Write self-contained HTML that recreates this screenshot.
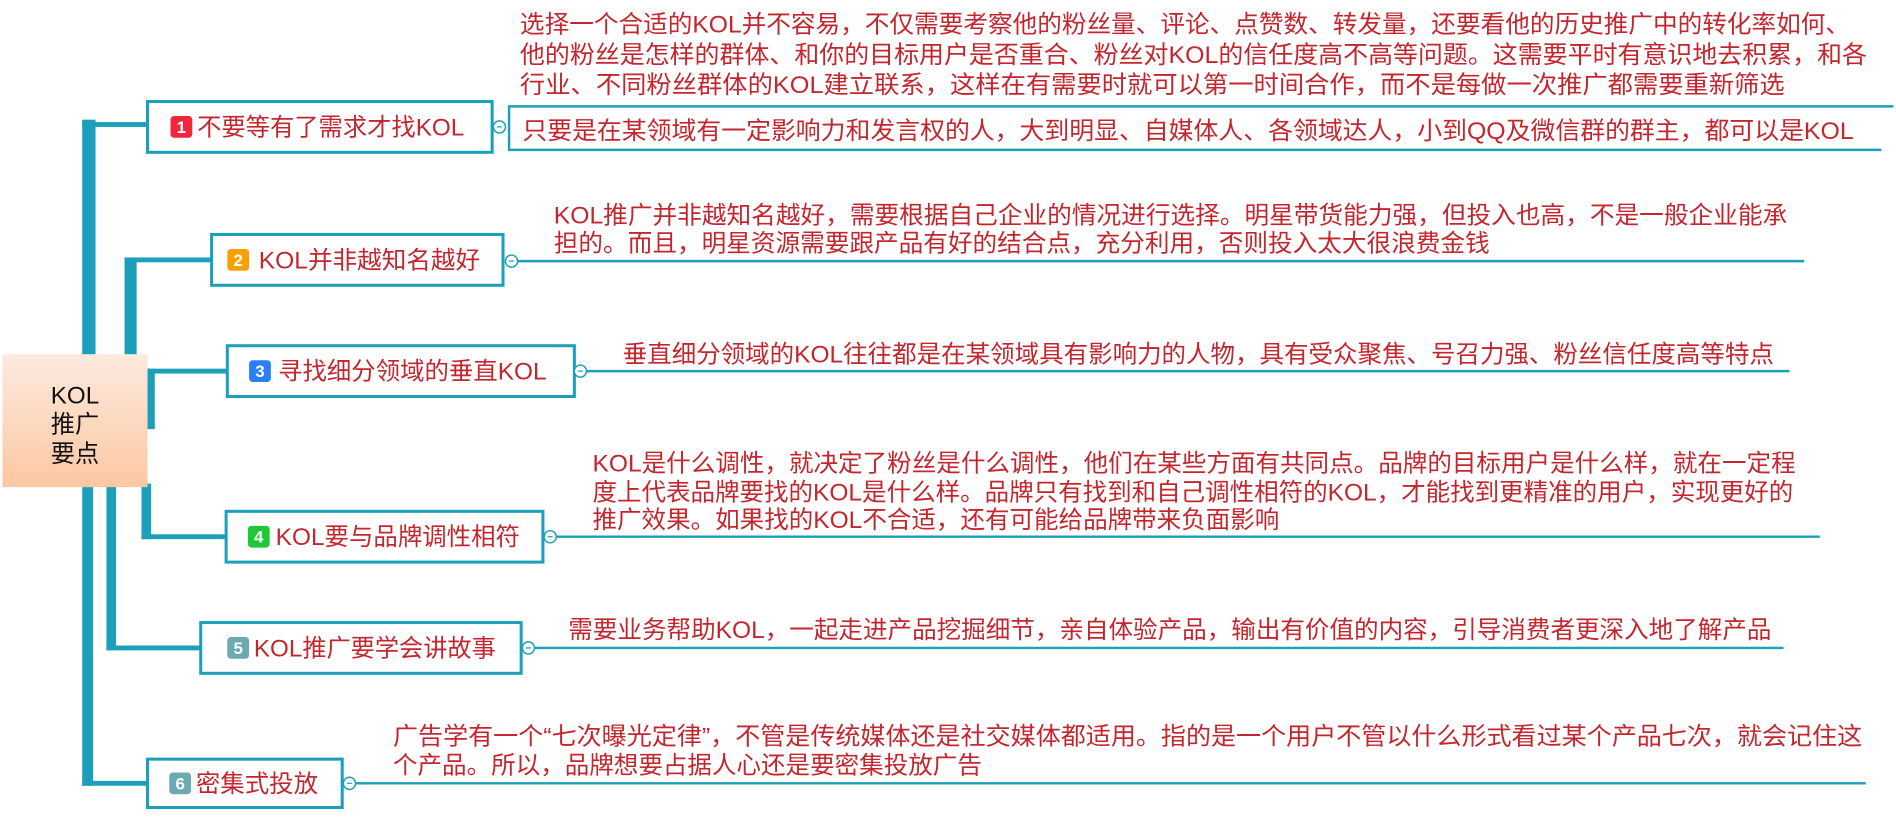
<!DOCTYPE html>
<html><head><meta charset="utf-8"><style>
html,body{margin:0;padding:0;background:#fff;}
svg{display:block;}
text{font-family:"Liberation Sans","Noto Sans CJK SC",sans-serif;}
.d{fill:#c4262e;font-size:20px;}
.t{fill:#c4262e;font-size:20px;}
.n{fill:#fff;font-size:14px;font-weight:bold;}
</style></head><body>
<svg width="1896" height="822" viewBox="0 0 1568 680" preserveAspectRatio="none" xmlns="http://www.w3.org/2000/svg">
<defs><linearGradient id="g" x1="0" y1="0" x2="0" y2="1"><stop offset="0" stop-color="#fdeadf"/><stop offset="1" stop-color="#fcc7a3"/></linearGradient></defs>
<g fill="#1b9fbb">
<rect x="68" y="99" width="11" height="196"/><rect x="68" y="101" width="53" height="4"/>
<rect x="103" y="213" width="10" height="82"/><rect x="103" y="213" width="72" height="4"/>
<rect x="121" y="305" width="7" height="50"/><rect x="121" y="305" width="67" height="4"/>
<rect x="117" y="400" width="8" height="46"/><rect x="117" y="442" width="70" height="4"/>
<rect x="88" y="400" width="8" height="138"/><rect x="88" y="534" width="78" height="4"/>
<rect x="68" y="400" width="9" height="250"/><rect x="68" y="646" width="53" height="4"/>
</g>
<rect x="2" y="293" width="120" height="110" fill="url(#g)"/>
<text x="62" y="334" text-anchor="middle" font-size="20" fill="#111">KOL</text>
<text x="62" y="358" text-anchor="middle" font-size="20" fill="#111">推广</text>
<text x="62" y="382" text-anchor="middle" font-size="20" fill="#111">要点</text>
<g fill="#fff" stroke="#1b9fbb" stroke-width="2.5">
<rect x="122" y="84" width="285" height="42"/>
<rect x="175" y="194" width="241" height="42"/>
<rect x="188" y="286" width="287" height="42"/>
<rect x="187" y="423" width="262" height="42"/>
<rect x="166" y="515" width="265" height="42"/>
<rect x="122" y="628" width="161" height="40"/>
</g>
<g stroke="#1b9fbb" stroke-width="2" fill="none">
<path d="M1566 88 H421 V124 H1556"/>
<line x1="428" y1="216" x2="1492" y2="216"/>
<line x1="485" y1="307" x2="1480" y2="307"/>
<line x1="455" y1="444" x2="1505" y2="444"/>
<line x1="440" y1="536" x2="1475" y2="536"/>
<line x1="290" y1="648" x2="1543" y2="648"/>
</g>
<g fill="#fff" stroke="#1b9fbb" stroke-width="1.2">
<circle cx="413" cy="105" r="5"/><circle cx="423" cy="216" r="5"/><circle cx="480" cy="307" r="5"/>
<circle cx="455" cy="444" r="5"/><circle cx="437" cy="536" r="5"/><circle cx="289" cy="648" r="5"/>
</g>
<g stroke="#1b9fbb" stroke-width="1">
<line x1="411" y1="105" x2="415" y2="105"/><line x1="421" y1="216" x2="425" y2="216"/><line x1="478" y1="307" x2="482" y2="307"/>
<line x1="453" y1="444" x2="457" y2="444"/><line x1="435" y1="536" x2="439" y2="536"/><line x1="287" y1="648" x2="291" y2="648"/>
</g>
<rect x="141" y="96" width="18" height="18" rx="3" fill="#f0283c"/><text class="n" x="150" y="110" text-anchor="middle">1</text>
<rect x="188" y="206" width="18" height="18" rx="3" fill="#f8a000"/><text class="n" x="197" y="220" text-anchor="middle">2</text>
<rect x="206" y="298" width="18" height="18" rx="3" fill="#2a7ff5"/><text class="n" x="215" y="312" text-anchor="middle">3</text>
<rect x="205" y="435" width="18" height="18" rx="3" fill="#1ec837"/><text class="n" x="214" y="449" text-anchor="middle">4</text>
<rect x="188" y="527" width="18" height="18" rx="3" fill="#6aaab0"/><text class="n" x="197" y="541" text-anchor="middle">5</text>
<rect x="140" y="639" width="18" height="18" rx="3" fill="#6aaab0"/><text class="n" x="149" y="653" text-anchor="middle">6</text>
<text class="t" x="163" y="112" textLength="221" lengthAdjust="spacingAndGlyphs">不要等有了需求才找KOL</text>
<text class="t" x="214" y="222" textLength="183" lengthAdjust="spacingAndGlyphs">KOL并非越知名越好</text>
<text class="t" x="230" y="314" textLength="222" lengthAdjust="spacingAndGlyphs">寻找细分领域的垂直KOL</text>
<text class="t" x="228" y="451" textLength="202" lengthAdjust="spacingAndGlyphs">KOL要与品牌调性相符</text>
<text class="t" x="210" y="543" textLength="200" lengthAdjust="spacingAndGlyphs">KOL推广要学会讲故事</text>
<text class="t" x="162" y="655" textLength="101" lengthAdjust="spacingAndGlyphs">密集式投放</text>
<text class="d" x="430" y="27" textLength="1100" lengthAdjust="spacingAndGlyphs">选择一个合适的KOL并不容易，不仅需要考察他的粉丝量、评论、点赞数、转发量，还要看他的历史推广中的转化率如何、</text>
<text class="d" x="430" y="52" textLength="1114" lengthAdjust="spacingAndGlyphs">他的粉丝是怎样的群体、和你的目标用户是否重合、粉丝对KOL的信任度高不高等问题。这需要平时有意识地去积累，和各</text>
<text class="d" x="430" y="77" textLength="1046" lengthAdjust="spacingAndGlyphs">行业、不同粉丝群体的KOL建立联系，这样在有需要时就可以第一时间合作，而不是每做一次推广都需要重新筛选</text>
<text class="d" x="432" y="115" textLength="1101" lengthAdjust="spacingAndGlyphs">只要是在某领域有一定影响力和发言权的人，大到明显、自媒体人、各领域达人，小到QQ及微信群的群主，都可以是KOL</text>
<text class="d" x="458" y="185" textLength="1020" lengthAdjust="spacingAndGlyphs">KOL推广并非越知名越好，需要根据自己企业的情况进行选择。明星带货能力强，但投入也高，不是一般企业能承</text>
<text class="d" x="458" y="208" textLength="774" lengthAdjust="spacingAndGlyphs">担的。而且，明星资源需要跟产品有好的结合点，充分利用，否则投入太大很浪费金钱</text>
<text class="d" x="515" y="300" textLength="952" lengthAdjust="spacingAndGlyphs">垂直细分领域的KOL往往都是在某领域具有影响力的人物，具有受众聚焦、号召力强、粉丝信任度高等特点</text>
<text class="d" x="490" y="390" textLength="995" lengthAdjust="spacingAndGlyphs">KOL是什么调性，就决定了粉丝是什么调性，他们在某些方面有共同点。品牌的目标用户是什么样，就在一定程</text>
<text class="d" x="490" y="414" textLength="993" lengthAdjust="spacingAndGlyphs">度上代表品牌要找的KOL是什么样。品牌只有找到和自己调性相符的KOL，才能找到更精准的用户，实现更好的</text>
<text class="d" x="490" y="437" textLength="568" lengthAdjust="spacingAndGlyphs">推广效果。如果找的KOL不合适，还有可能给品牌带来负面影响</text>
<text class="d" x="470" y="528" textLength="995" lengthAdjust="spacingAndGlyphs">需要业务帮助KOL，一起走进产品挖掘细节，亲自体验产品，输出有价值的内容，引导消费者更深入地了解产品</text>
<text class="d" x="325" y="616" textLength="1215" lengthAdjust="spacingAndGlyphs">广告学有一个“七次曝光定律”，不管是传统媒体还是社交媒体都适用。指的是一个用户不管以什么形式看过某个产品七次，就会记住这</text>
<text class="d" x="325" y="640" textLength="487" lengthAdjust="spacingAndGlyphs">个产品。所以，品牌想要占据人心还是要密集投放广告</text>
</svg>
</body></html>
